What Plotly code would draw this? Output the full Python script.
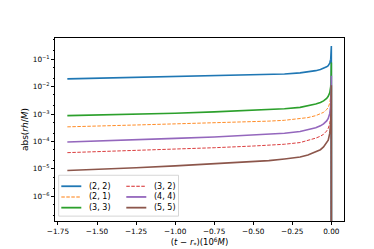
import plotly.graph_objects as go

# time relative to peak, in units of 10^6 M
t = [-1.69, -1.5, -1.25, -1.0, -0.75, -0.5, -0.4, -0.3, -0.2, -0.15, -0.1, -0.07,
     -0.05, -0.03, -0.02, -0.01, -0.004, -0.0015, 0.0, 0.0003]

labels = ["(2, 2)", "(2, 1)", "(3, 3)", "(3, 2)", "(4, 4)", "(5, 5)"]

h22 = [1.9e-2, 2.0e-2, 2.14e-2, 2.29e-2, 2.45e-2, 2.63e-2, 2.75e-2, 2.88e-2, 3.16e-2,
       3.39e-2, 3.8e-2, 4.17e-2, 4.57e-2, 5.25e-2, 5.75e-2, 7.2e-2, 1.0e-1, 1.4e-1,
       3.0e-1, 1e-9]
h21 = [3.4e-4, 3.55e-4, 3.98e-4, 4.37e-4, 4.8e-4, 5.1e-4, 5.5e-4, 5.9e-4, 6.6e-4,
       7.4e-4, 8.7e-4, 1.0e-3, 1.15e-3, 1.45e-3, 1.74e-3, 2.5e-3, 4.0e-3, 6.3e-3,
       1.0e-2, 1e-9]
h33 = [8.7e-4, 9.1e-4, 9.8e-4, 1.07e-3, 1.2e-3, 1.38e-3, 1.45e-3, 1.55e-3, 1.74e-3,
       1.95e-3, 2.3e-3, 2.63e-3, 3.0e-3, 3.7e-3, 4.4e-3, 6.0e-3, 1.0e-2, 2.0e-2,
       7.6e-2, 1e-9]
h32 = [3.9e-5, 4.2e-5, 4.7e-5, 5.25e-5, 5.9e-5, 6.8e-5, 7.2e-5, 7.9e-5, 9.1e-5,
       1.07e-4, 1.32e-4, 1.55e-4, 1.82e-4, 2.4e-4, 3.0e-4, 4.6e-4, 7.9e-4, 1.6e-3,
       5.0e-3, 1e-9]
h44 = [9.5e-5, 1.02e-4, 1.15e-4, 1.29e-4, 1.45e-4, 1.7e-4, 1.82e-4, 2.0e-4, 2.3e-4,
       2.63e-4, 3.16e-4, 3.7e-4, 4.37e-4, 5.6e-4, 6.9e-4, 1.05e-3, 2.0e-3, 5.0e-3,
       2.5e-2, 1e-9]
h55 = [8.7e-6, 9.5e-6, 1.1e-5, 1.29e-5, 1.51e-5, 1.82e-5, 2.0e-5, 2.3e-5, 2.7e-5,
       3.2e-5, 4.1e-5, 5.0e-5, 6.3e-5, 8.9e-5, 1.12e-4, 2.0e-4, 5.0e-4, 1.6e-3,
       1.12e-2, 1e-9]

series = [h22, h21, h33, h32, h44, h55]
colors = ["#1f77b4", "#ff7f0e", "#2ca02c", "#d62728", "#9467bd", "#8c564b"]
dashes = ["solid", "3.5px,1.5px", "solid", "3.5px,1.5px", "solid", "solid"]
widths = [1.6, 0.9, 1.6, 0.9, 1.6, 1.6]

xtick_vals = [-1.75, -1.5, -1.25, -1.0, -0.75, -0.5, -0.25, 0.0]
xtick_text = ["−1.75", "−1.50", "−1.25", "−1.00", "−0.75", "−0.50", "−0.25", "0.00"]
ytick_vals = [1e-6, 1e-5, 1e-4, 1e-3, 1e-2, 1e-1]
ytick_text = ["10<sup>−6</sup>", "10<sup>−5</sup>", "10<sup>−4</sup>",
              "10<sup>−3</sup>", "10<sup>−2</sup>", "10<sup>−1</sup>"]

W, H = 374, 249
ML, MR, MT, MB = 47, 38, 30, 31
PW, PH = W - ML - MR, H - MT - MB


def px(xp):
    return (xp - ML) / PW


def py(yp):
    return (H - MB - yp) / PH


fig = go.Figure()
for lab, y, c, d, w in zip(labels, series, colors, dashes, widths):
    fig.add_trace(go.Scatter(x=t, y=y, mode="lines", name=lab, showlegend=False,
                             line=dict(color=c, dash=d, width=w)))

# legend (two columns, column-major order like the original)
shapes = [dict(type="rect", xref="paper", yref="paper",
               x0=px(50.7), x1=px(170.5), y0=py(213), y1=py(171),
               fillcolor="rgba(255,255,255,0.8)", line=dict(color="#cccccc", width=0.8),
               layer="above")]
annotations = []
col_line_x = [(53.3, 73.3), (118.3, 138.3)]
col_text_x = [79, 144]
row_y = [182.3, 193.3, 204.3]
for i, (lab, c, d, w) in enumerate(zip(labels, colors, dashes, widths)):
    col, row = i // 3, i % 3
    x0, x1 = col_line_x[col]
    shapes.append(dict(type="line", xref="paper", yref="paper",
                       x0=px(x0), x1=px(x1), y0=py(row_y[row]), y1=py(row_y[row]),
                       line=dict(color=c, dash=d, width=w + 0.2), layer="above"))
    annotations.append(dict(text=lab, xref="paper", yref="paper",
                            x=px(col_text_x[col]), y=py(row_y[row]),
                            xanchor="left", yanchor="middle", showarrow=False,
                            font=dict(family="DejaVu Sans", size=8, color="black")))

axis_common = dict(showline=True, linecolor="black", linewidth=0.8, mirror=True,
                   ticks="outside", ticklen=3, tickwidth=0.8, tickcolor="black",
                   showgrid=False, zeroline=False,
                   tickfont=dict(family="DejaVu Sans", size=7.3, color="black"))

fig.update_layout(
    width=W, height=H,
    margin=dict(l=ML, r=MR, t=MT, b=MB),
    paper_bgcolor="white", plot_bgcolor="white",
    font=dict(family="DejaVu Sans", size=8, color="black"),
    xaxis=dict(range=[-1.769, 0.081], tickvals=xtick_vals, ticktext=xtick_text,
               title=dict(text="(<i>t</i> − <i>r</i><sub>*</sub>)(10<sup>6</sup><i>M</i>)",
                          standoff=3, font=dict(size=8.5)),
               **axis_common),
    yaxis=dict(type="log", range=[-6.9, -0.23], tickvals=ytick_vals, ticktext=ytick_text,
               minor=dict(ticks="outside", ticklen=1.5, tickcolor="black",
                          tickwidth=0.6, showgrid=False),
               title=dict(text="abs(<i>rh</i>/<i>M</i>)", standoff=2, font=dict(size=9)),
               **axis_common),
    shapes=shapes,
    annotations=annotations,
    showlegend=False,
)

fig.write_html("out.html")
